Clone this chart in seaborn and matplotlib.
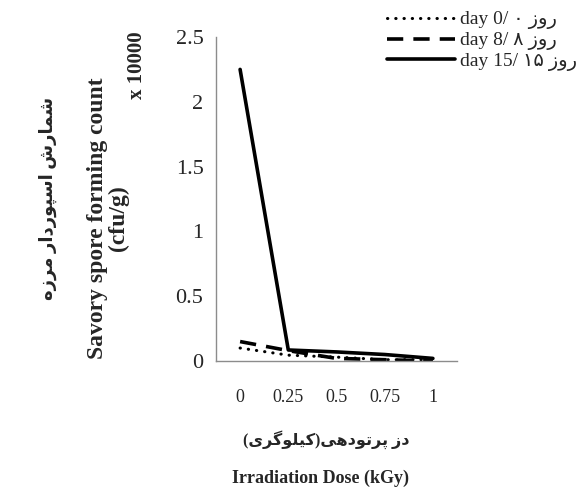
import matplotlib
matplotlib.use("Agg")
import matplotlib.pyplot as plt
import seaborn as sns
import pandas as pd

doses = ["0", "0.25", "0.5", "0.75", "1"]
day0 = [0.10, 0.045, 0.03, 0.01, 0.01]
day8 = [0.15, 0.08, 0.02, 0.01, 0.00]
day15 = [2.25, 0.085, 0.07, 0.05, 0.02]
yticks = [0, 0.5, 1, 1.5, 2, 2.5]
ytick_labels = ["0", "0.5", "1", "1.5", "2", "2.5"]

ROOZ = "\uFEAF\uFEED\uFEAD"  # روز (visual order)
series_labels = [
    "day 0/ \u06F0 " + ROOZ,
    "day 8/ \u06F8 " + ROOZ,
    "day 15/ \u06F1\u06F5 " + ROOZ,
]
# شمارش اسپوردار مرزه  (visual order, presentation forms)
fa_ylabel = ("\uFEB7\uFEE4\uFE8E\uFEAD\uFEB5" + " "
             + "\uFE8D\uFEB3\uFB59\uFEEE\uFEAD\uFEA9\uFE8D\uFEAD" + " "
             + "\uFEE3\uFEAE\uFEAF\uFEE9")[::-1]
# دز پرتودهی(کیلوگری)  (visual order, right-to-left)
w_dz = "\uFEA9\uFEAF"
w_partodehi = "\uFB58\uFEAE\uFE97\uFEEE\uFEA9\uFEEB\uFBFD"
w_kilogray = "\uFB90\uFBFF\uFEE0\uFEEE\uFB94\uFEAE\uFBFC"
fa_xlabel = "(" + w_kilogray[::-1] + ")" + w_partodehi[::-1] + " " + w_dz[::-1]

rows = []
for lab, vals in zip(series_labels, [day0, day8, day15]):
    for d, v in zip(doses, vals):
        rows.append({"dose": d, "count": v, "series": lab})
df = pd.DataFrame(rows)

sns.set_style("white")
plt.rcParams["font.family"] = ["Liberation Serif", "DejaVu Sans"]

fig = plt.figure(figsize=(5.85, 4.90), dpi=100)
ax = fig.add_axes([216 / 585, 1 - 361 / 490, (457 - 216) / 585, (361 - 37) / 490])

styles = [dict(dashes=(0.1, 2.6), lw=2.2, cap="round"),
          dict(dashes=(4.5, 2.8), lw=2.6, cap="butt"),
          dict(dashes=None, lw=2.6, cap="butt")]
for lab, st in zip(series_labels, styles):
    sub = df[df["series"] == lab]
    sns.lineplot(data=sub, x="dose", y="count", ax=ax, color="black",
                 lw=st["lw"], label=lab, sort=False)
    ln = ax.lines[-1]
    if st["dashes"] is not None:
        ln.set_dashes(st["dashes"])
    ln.set_dash_capstyle(st["cap"])

ax.set_xlim(-0.5, 4.5)
ax.set_ylim(0, 2.5)
ax.set_yticks(yticks)
ax.set_yticklabels(ytick_labels, fontsize=16)
ax.tick_params(axis="y", direction="in", length=6, color="#8c8c8c", width=1, pad=9)
ax.tick_params(axis="x", length=0, pad=20, labelsize=13)
for s in ["top", "right"]:
    ax.spines[s].set_visible(False)
for s in ["left", "bottom"]:
    ax.spines[s].set_color("#8c8c8c")
    ax.spines[s].set_linewidth(1)
ax.set_xlabel("")
ax.set_ylabel("")

leg = ax.legend(loc="upper right", bbox_to_anchor=(584 / 585, 1 - 4 / 490),
                bbox_transform=fig.transFigure, frameon=False, fontsize=14,
                handlelength=3.5, handletextpad=0.25, labelspacing=0.12,
                borderaxespad=0.15, borderpad=0.2)
for h in leg.get_lines():
    h.set_color("black")

fig.text(48 / 585, 1 - 198 / 490, fa_ylabel, rotation=90, ha="center", va="center",
         fontsize=13, fontweight="bold")
fig.text(108 / 585, 1 - 218 / 490, "Savory spore forming count\n(cfu/g)", rotation=90,
         ha="center", va="center", fontsize=17, fontweight="bold",
         multialignment="center", linespacing=1.0)
fig.text(137 / 585, 1 - 65 / 490, "x 10000", rotation=90, ha="center", va="center",
         fontsize=15, fontweight="bold")
fig.text(326 / 585, 1 - 440 / 490, fa_xlabel, ha="center", va="center",
         fontsize=11.5, fontweight="bold")
fig.text(320 / 585, 1 - 478 / 490, "Irradiation Dose (kGy)", ha="center", va="center",
         fontsize=13, fontweight="bold")

fig.savefig("out.png", dpi=100)
